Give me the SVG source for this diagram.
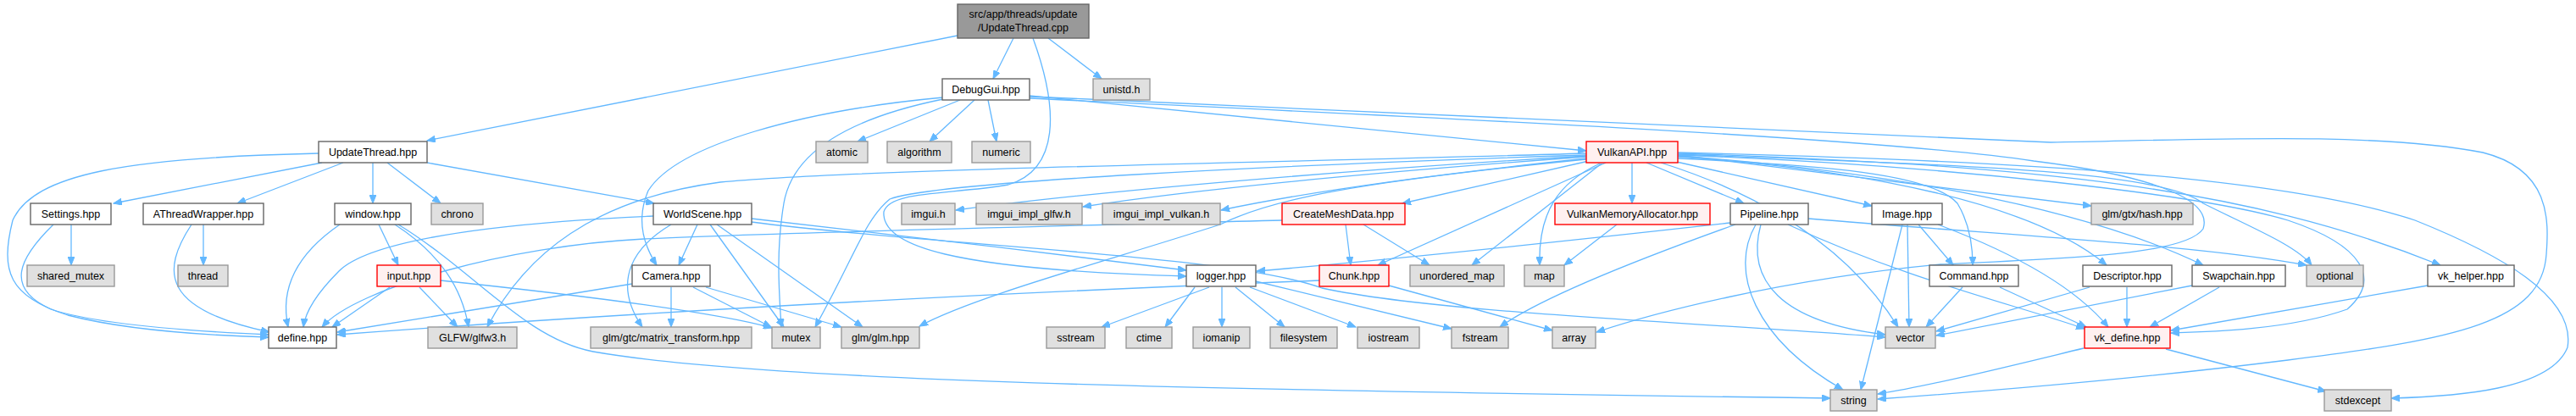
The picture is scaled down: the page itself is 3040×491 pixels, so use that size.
<svg xmlns="http://www.w3.org/2000/svg" width="3040" height="491" viewBox="0 0 3040 491">
<style>
rect{stroke-width:1.4}
.w rect{fill:#fff;stroke:#666}
.g rect{fill:#e0e0e0;stroke:#999}
.r rect{fill:#fff0f0;stroke:#f00}
.k rect{fill:#999;stroke:#666}
text{font-family:"Liberation Sans",Arial,sans-serif;font-size:12.5px;text-anchor:middle;fill:#000}
#edges path{fill:none;stroke:#63b8ff;stroke-width:1.3;marker-end:url(#a)}
</style>
<defs>
<marker id="a" markerWidth="11" markerHeight="8" refX="10" refY="4" orient="auto" markerUnits="userSpaceOnUse"><path d="M0,0 L10,4 L0,8 z" fill="#63b8ff" stroke="#63b8ff" stroke-width="1"/></marker>
</defs>
<rect width="3040" height="491" fill="#fff" stroke="none"/>
<g id="edges">
<path d="M1130,42 C900,88 700,128 504,166"/>
<path d="M1196,45 L1172,93"/>
<path d="M1219,45 C1250,130 1250,200 1190,218 C1120,230 1050,225 1043,250 C1040,290 1120,318 1400,326"/>
<path d="M1237,45 L1300,93"/>
<path d="M376,181 C150,186 40,205 15,260 C0,320 10,350 80,372 C150,390 250,396 317,398"/>
<path d="M380,192 L134,240"/>
<path d="M405,192 L280,240"/>
<path d="M440,192 L440,240"/>
<path d="M457,192 L520,240"/>
<path d="M504,192 L772,240"/>
<path d="M84,265 L84,313"/>
<path d="M63,265 C22,305 5,340 60,365 C120,385 250,392 317,395"/>
<path d="M240,265 L240,313"/>
<path d="M226,265 C190,320 190,365 318,392"/>
<path d="M401,265 C350,300 330,340 340,386"/>
<path d="M447,265 L470,313"/>
<path d="M466,265 C520,300 545,340 553,386"/>
<path d="M470,265 C560,320 620,400 700,415 C900,450 1400,460 2160,470"/>
<path d="M460,339 L392,386"/>
<path d="M495,339 L540,386"/>
<path d="M520,331 C700,350 850,370 911,387"/>
<path d="M746,335 L398,392"/>
<path d="M792,339 L792,386"/>
<path d="M818,339 L910,386"/>
<path d="M833,339 L993,386"/>
<path d="M823,265 L801,313"/>
<path d="M771,255 C700,258 450,270 400,320 C370,350 360,370 358,386"/>
<path d="M838,265 L925,386"/>
<path d="M846,265 L1018,386"/>
<path d="M887,258 C1000,270 1250,300 1400,319"/>
<path d="M887,262 C1100,290 1450,300 1560,340 C1700,370 2000,380 2225,398"/>
<path d="M792,265 C750,290 720,330 758,386"/>
<path d="M1133,118 L1012,167"/>
<path d="M1150,118 L1097,167"/>
<path d="M1166,118 L1176,167"/>
<path d="M1215,113 L1872,178"/>
<path d="M1113,115 C950,130 800,170 765,225 C750,260 760,290 775,313"/>
<path d="M1113,117 C1000,140 935,180 925,240 C915,300 920,350 922,386"/>
<path d="M1215,114 C1700,135 2200,160 2420,168 C2600,165 2800,155 2930,180 C3010,200 3008,260 3005,300 C3000,380 2900,400 2700,425 C2500,450 2300,465 2216,471"/>
<path d="M1215,116 C1600,135 2200,160 2400,190 C2560,210 2610,240 2600,270 C2580,300 2450,305 2290,312 C2100,330 1950,370 1884,392"/>
<path d="M1872,181 C1500,192 1000,200 850,215 C700,235 620,300 575,386"/>
<path d="M1872,183 C1500,195 1100,215 1050,235 C1020,260 1010,300 962,386"/>
<path d="M1872,184 C1600,200 1300,225 1128,248"/>
<path d="M1872,185 C1600,205 1400,225 1278,244"/>
<path d="M1872,187 C1700,205 1550,225 1441,248"/>
<path d="M1872,188 C1600,215 1500,235 1440,265 C1300,310 1150,350 1085,385"/>
<path d="M1875,190 L1655,240"/>
<path d="M1895,192 L1626,313"/>
<path d="M1890,193 L1737,313"/>
<path d="M1888,193 C1840,215 1815,250 1817,313"/>
<path d="M1926,192 L1926,240"/>
<path d="M1943,192 L2058,240"/>
<path d="M1974,190 L2209,243"/>
<path d="M1980,183 L2468,243"/>
<path d="M1980,187 C2150,195 2280,205 2310,240 C2325,265 2328,290 2328,313"/>
<path d="M1960,192 C2080,230 2180,290 2240,386"/>
<path d="M1980,185 C2200,200 2400,240 2486,313"/>
<path d="M1980,184 C2200,200 2450,240 2600,313"/>
<path d="M1980,182 C2300,195 2550,200 2600,240 C2660,270 2710,290 2728,313"/>
<path d="M1980,181 C2400,195 2650,220 2880,313"/>
<path d="M1980,183 C2300,195 2600,230 2700,260 C2790,290 2810,330 2770,365 C2700,390 2600,392 2562,393"/>
<path d="M1980,180 C2400,190 2700,210 2850,260 C2950,300 3040,350 3030,410 C3010,460 2900,468 2822,470"/>
<path d="M2042,263 C1800,290 1600,310 1483,320"/>
<path d="M2048,265 C1950,300 1820,350 1770,386"/>
<path d="M2072,265 C2040,320 2070,400 2175,460"/>
<path d="M2078,265 C2060,330 2100,380 2225,395"/>
<path d="M2110,265 C2250,330 2380,360 2460,388"/>
<path d="M2134,258 C2400,280 2600,290 2722,313"/>
<path d="M2251,265 L2253,386"/>
<path d="M2245,265 L2196,460"/>
<path d="M2264,265 L2305,313"/>
<path d="M2287,265 C2380,300 2450,340 2488,386"/>
<path d="M2316,339 L2273,386"/>
<path d="M2360,339 L2462,386"/>
<path d="M2466,339 L2285,391"/>
<path d="M2510,339 L2510,386"/>
<path d="M2587,337 L2285,396"/>
<path d="M2619,339 L2537,386"/>
<path d="M2865,337 L2562,390"/>
<path d="M2459,411 C2380,430 2280,455 2216,465"/>
<path d="M2556,412 L2745,462"/>
<path d="M1427,339 L1300,386"/>
<path d="M1410,339 L1375,386"/>
<path d="M1442,339 L1442,386"/>
<path d="M1458,339 L1516,386"/>
<path d="M1475,339 L1600,386"/>
<path d="M1482,332 L1713,388"/>
<path d="M1557,331 C1200,345 800,365 398,395"/>
<path d="M1639,337 L1832,390"/>
<path d="M1588,265 L1594,313"/>
<path d="M1609,265 L1687,313"/>
<path d="M1514,260 C1200,268 900,275 760,282 C600,290 420,340 380,386"/>
<path d="M1908,265 L1846,313"/>
</g>
<g id="n_root" class="k"><rect x="1130" y="5" width="155" height="40"/><text x="1207.5" y="21">src/app/threads/update</text><text x="1207.5" y="37">/UpdateThread.cpp</text></g>
<g id="n_debuggui" class="w"><rect x="1112" y="93" width="103" height="25"/><text x="1163.5" y="110">DebugGui.hpp</text></g>
<g id="n_unistd" class="g"><rect x="1290" y="93" width="67" height="25"/><text x="1323.5" y="110">unistd.h</text></g>
<g id="n_updatethread" class="w"><rect x="376" y="167" width="128" height="25"/><text x="440" y="184">UpdateThread.hpp</text></g>
<g id="n_atomic" class="g"><rect x="963" y="167" width="61" height="25"/><text x="993.5" y="184">atomic</text></g>
<g id="n_algorithm" class="g"><rect x="1047" y="167" width="76" height="25"/><text x="1085" y="184">algorithm</text></g>
<g id="n_numeric" class="g"><rect x="1147" y="167" width="69" height="25"/><text x="1181.5" y="184">numeric</text></g>
<g id="n_vulkanapi" class="r"><rect x="1872" y="167" width="108" height="25"/><text x="1926" y="184">VulkanAPI.hpp</text></g>
<g id="n_settings" class="w"><rect x="36" y="240" width="95" height="25"/><text x="83.5" y="257">Settings.hpp</text></g>
<g id="n_athread" class="w"><rect x="169" y="240" width="142" height="25"/><text x="240" y="257">AThreadWrapper.hpp</text></g>
<g id="n_window" class="w"><rect x="395" y="240" width="90" height="25"/><text x="440" y="257">window.hpp</text></g>
<g id="n_chrono" class="g"><rect x="509" y="240" width="61" height="25"/><text x="539.5" y="257">chrono</text></g>
<g id="n_worldscene" class="w"><rect x="771" y="240" width="116" height="25"/><text x="829" y="257">WorldScene.hpp</text></g>
<g id="n_imgui" class="g"><rect x="1064" y="240" width="63" height="25"/><text x="1095.5" y="257">imgui.h</text></g>
<g id="n_imgui_glfw" class="g"><rect x="1152" y="240" width="125" height="25"/><text x="1214.5" y="257">imgui_impl_glfw.h</text></g>
<g id="n_imgui_vulkan" class="g"><rect x="1301" y="240" width="139" height="25"/><text x="1370.5" y="257">imgui_impl_vulkan.h</text></g>
<g id="n_createmesh" class="r"><rect x="1513" y="240" width="145" height="25"/><text x="1585.5" y="257">CreateMeshData.hpp</text></g>
<g id="n_vma" class="r"><rect x="1835" y="240" width="183" height="25"/><text x="1926.5" y="257">VulkanMemoryAllocator.hpp</text></g>
<g id="n_pipeline" class="w"><rect x="2042" y="240" width="92" height="25"/><text x="2088" y="257">Pipeline.hpp</text></g>
<g id="n_image" class="w"><rect x="2209" y="240" width="83" height="25"/><text x="2250.5" y="257">Image.hpp</text></g>
<g id="n_gtxhash" class="g"><rect x="2468" y="240" width="120" height="25"/><text x="2528" y="257">glm/gtx/hash.hpp</text></g>
<g id="n_shared_mutex" class="g"><rect x="32" y="313" width="103" height="25"/><text x="83.5" y="330">shared_mutex</text></g>
<g id="n_thread" class="g"><rect x="210" y="313" width="59" height="25"/><text x="239.5" y="330">thread</text></g>
<g id="n_input" class="r"><rect x="445" y="313" width="75" height="25"/><text x="482.5" y="330">input.hpp</text></g>
<g id="n_camera" class="w"><rect x="746" y="313" width="92" height="25"/><text x="792" y="330">Camera.hpp</text></g>
<g id="n_logger" class="w"><rect x="1400" y="313" width="82" height="25"/><text x="1441" y="330">logger.hpp</text></g>
<g id="n_chunk" class="r"><rect x="1557" y="313" width="82" height="25"/><text x="1598" y="330">Chunk.hpp</text></g>
<g id="n_unordered_map" class="g"><rect x="1664" y="313" width="111" height="25"/><text x="1719.5" y="330">unordered_map</text></g>
<g id="n_map" class="g"><rect x="1799" y="313" width="47" height="25"/><text x="1822.5" y="330">map</text></g>
<g id="n_command" class="w"><rect x="2277" y="313" width="105" height="25"/><text x="2329.5" y="330">Command.hpp</text></g>
<g id="n_descriptor" class="w"><rect x="2458" y="313" width="105" height="25"/><text x="2510.5" y="330">Descriptor.hpp</text></g>
<g id="n_swapchain" class="w"><rect x="2587" y="313" width="110" height="25"/><text x="2642" y="330">Swapchain.hpp</text></g>
<g id="n_optional" class="g"><rect x="2722" y="313" width="67" height="25"/><text x="2755.5" y="330">optional</text></g>
<g id="n_vk_helper" class="w"><rect x="2865" y="313" width="102" height="25"/><text x="2916" y="330">vk_helper.hpp</text></g>
<g id="n_define" class="w"><rect x="317" y="386" width="80" height="25"/><text x="357" y="403">define.hpp</text></g>
<g id="n_glfw" class="g"><rect x="505" y="386" width="105" height="25"/><text x="557.5" y="403">GLFW/glfw3.h</text></g>
<g id="n_matrix" class="g"><rect x="697" y="386" width="190" height="25"/><text x="792" y="403">glm/gtc/matrix_transform.hpp</text></g>
<g id="n_mutex" class="g"><rect x="911" y="386" width="57" height="25"/><text x="939.5" y="403">mutex</text></g>
<g id="n_glm" class="g"><rect x="993" y="386" width="92" height="25"/><text x="1039" y="403">glm/glm.hpp</text></g>
<g id="n_sstream" class="g"><rect x="1235" y="386" width="69" height="25"/><text x="1269.5" y="403">sstream</text></g>
<g id="n_ctime" class="g"><rect x="1329" y="386" width="54" height="25"/><text x="1356" y="403">ctime</text></g>
<g id="n_iomanip" class="g"><rect x="1408" y="386" width="67" height="25"/><text x="1441.5" y="403">iomanip</text></g>
<g id="n_filesystem" class="g"><rect x="1499" y="386" width="79" height="25"/><text x="1538.5" y="403">filesystem</text></g>
<g id="n_iostream" class="g"><rect x="1602" y="386" width="73" height="25"/><text x="1638.5" y="403">iostream</text></g>
<g id="n_fstream" class="g"><rect x="1713" y="386" width="67" height="25"/><text x="1746.5" y="403">fstream</text></g>
<g id="n_array" class="g"><rect x="1832" y="386" width="51" height="25"/><text x="1857.5" y="403">array</text></g>
<g id="n_vector" class="g"><rect x="2225" y="386" width="59" height="25"/><text x="2254.5" y="403">vector</text></g>
<g id="n_vk_define" class="r"><rect x="2460" y="386" width="101" height="25"/><text x="2510.5" y="403">vk_define.hpp</text></g>
<g id="n_string" class="g"><rect x="2160" y="460" width="55" height="25"/><text x="2187.5" y="477">string</text></g>
<g id="n_stdexcept" class="g"><rect x="2743" y="460" width="79" height="25"/><text x="2782.5" y="477">stdexcept</text></g>
</svg>
